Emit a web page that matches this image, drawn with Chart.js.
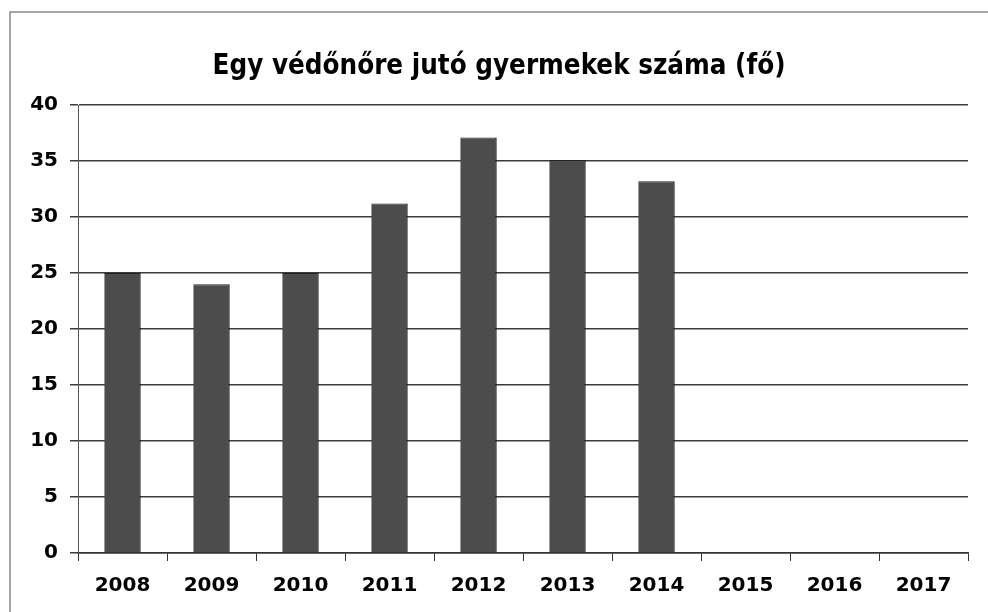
<!DOCTYPE html>
<html>
<head>
<meta charset="utf-8">
<script src="https://cdn.jsdelivr.net/npm/chart.js@4"></script>
<style>
  body { margin: 0; background: #fff; }
  #wrap { width: 988px; height: 612px; }
</style>
</head>
<body>
<div id="wrap"><canvas id="barChart" width="988" height="612"></canvas></div>
<script>
// data
var years = ["2008", "2009", "2010", "2011", "2012", "2013", "2014", "2015", "2016", "2017"];
var childrenPerNurse = [25, 24, 25, 31.2, 37.1, 35.1, 33.2, null, null, null];
var yTicks = [0, 5, 10, 15, 20, 25, 30, 35, 40];
var chartTitle = "Egy védőnőre jutó gyermekek száma (fő)";

/** frame around the chart (left + top edge only) **/
var framePlugin = {
    id: 'frame',
    beforeDraw: function (chart) {
        var c = chart.ctx;
        c.save();
        c.strokeStyle = '#8a8a8a';
        c.lineWidth = 1.5;
        c.beginPath();
        c.moveTo(10, 612);
        c.lineTo(10, 12);
        c.lineTo(988, 12);
        c.stroke();
        c.restore();
    }
};

var barData = {
    labels: years,
    datasets: [
        {
            label: chartTitle,
            backgroundColor: '#4c4c4c',
            borderColor: '#222',
            borderWidth: {left: 0, right: 1.5, top: 1, bottom: 0},
            data: childrenPerNurse,
            barPercentage: 0.41,
            categoryPercentage: 1
        }
    ]
};

var barOptions = {
    responsive: false,
    animation: false,
    // left padding 30 + axis width 48 -> plot starts at x=78, title centred at ~499
    layout: {padding: {left: 30, right: 20, top: 0, bottom: 0}},
    plugins: {
        legend: {display: false},
        tooltip: {enabled: false},
        title: {
            display: true,
            text: chartTitle,
            color: '#000',
            font: {family: 'DejaVu Sans Condensed', weight: 'bold', size: 27.5},
            padding: {top: 50, bottom: 22}
        }
    },
    scales: {
        x: {
            afterFit: function (s) { s.height = 59; },
            grid: {
                offset: true,
                drawOnChartArea: false,
                drawTicks: true,
                tickLength: 8,
                color: '#333'
            },
            border: {color: '#333', width: 1.5},
            ticks: {
                color: '#000',
                padding: 13,
                font: {family: 'DejaVu Sans', weight: 'bold', size: 20}
            }
        },
        y: {
            min: 0,
            max: 40,
            afterFit: function (s) { s.width = 48; },
            afterBuildTicks: function (s) {
                s.ticks = yTicks.map(function (v) { return {value: v}; });
            },
            grid: {color: '#3c3c3c', lineWidth: 1.5, tickLength: 8},
            border: {color: '#555', width: 1},
            ticks: {
                color: '#000',
                padding: 12,
                font: {family: 'DejaVu Sans', weight: 'bold', size: 20}
            }
        }
    }
};

var ctx2 = document.getElementById("barChart").getContext("2d");
new Chart(ctx2, {type: 'bar', data: barData, options: barOptions, plugins: [framePlugin]});
</script>
</body>
</html>
